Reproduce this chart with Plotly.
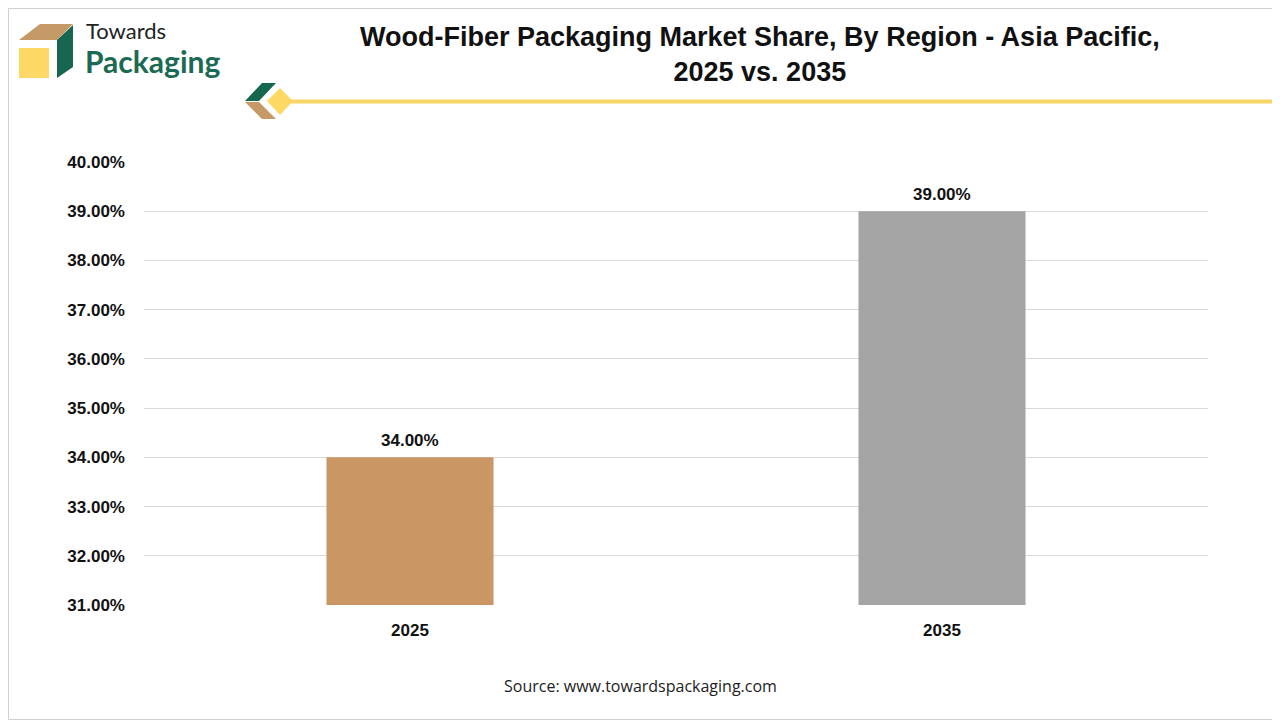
import plotly.graph_objects as go

categories = ["2025", "2035"]
values = [34.00, 39.00]
bar_colors = ["#C99664", "#A5A5A5"]
tick_vals = [31, 32, 33, 34, 35, 36, 37, 38, 39, 40]
tick_text = [f"{v:.2f}%" for v in tick_vals]
data_labels = [f"<b>{v:.2f}%</b>" for v in values]

# page offset of the figure inside the browser (body margin)
OX, OY = 8, 8
W, H = 1280 - OX, 720 - OY
L, R, T, B = 144, 1208, 162, 605  # plot area in screen pixels


def px(x):
    return (x - L) / (R - L)


def py(y):
    return (B - y) / (B - T)


def path(points):
    return "M " + " L ".join(f"{px(x):.5f},{py(y):.5f}" for x, y in points) + " Z"


fig = go.Figure()
fig.add_trace(go.Bar(
    x=categories, y=values, marker=dict(color=bar_colors, line=dict(width=0)),
    width=0.314, showlegend=False, hoverinfo="x+y",
))

shapes = []
# outer border
shapes.append(dict(type="rect", xref="paper", yref="paper", x0=px(OX + 0.5), x1=px(1279.5),
                   y0=py(OY + 0.5), y1=py(719.5),
                   line=dict(color="#D0D0D0", width=1), fillcolor="rgba(0,0,0,0)", layer="below"))
# logo cube
shapes.append(dict(type="path", xref="paper", yref="paper", path=path([(19, 40), (40, 24), (73, 24), (57, 40)]),
                   fillcolor="#C59A66", line=dict(width=0)))
shapes.append(dict(type="path", xref="paper", yref="paper", path=path([(57, 40), (73, 25), (73, 67), (57, 78)]),
                   fillcolor="#17664F", line=dict(width=0)))
shapes.append(dict(type="rect", xref="paper", yref="paper", x0=px(19), x1=px(49), y0=py(78), y1=py(48),
                   fillcolor="#FDD865", line=dict(width=0)))
# decoration by the title line
shapes.append(dict(type="line", xref="paper", yref="paper", x0=px(288), x1=px(1280), y0=py(101.5), y1=py(101.5),
                   line=dict(color="#F7D566", width=4)))
shapes.append(dict(type="path", xref="paper", yref="paper", path=path([(245, 101), (262, 83), (276, 83), (259, 101)]),
                   fillcolor="#17664F", line=dict(width=0)))
shapes.append(dict(type="path", xref="paper", yref="paper", path=path([(245, 102), (259, 102), (276, 119), (262, 119)]),
                   fillcolor="#C59A66", line=dict(width=0)))
shapes.append(dict(type="path", xref="paper", yref="paper", path=path([(280, 88), (293, 101), (280, 115), (267, 101)]),
                   fillcolor="#FDD865", line=dict(width=0)))

annotations = [
    dict(text="<b>Wood-Fiber Packaging Market Share, By Region - Asia Pacific,<br>2025 vs. 2035</b>",
         xref="paper", yref="paper", x=px(760), y=py(54), xanchor="center", yanchor="middle",
         showarrow=False, font=dict(family="Liberation Sans, Arial", size=27, color="#111111")),
    dict(text="Towards", xref="paper", yref="paper", x=px(84), y=py(30), xanchor="left", yanchor="middle",
         showarrow=False, font=dict(family="Lato, Open Sans", size=22, color="#222222")),
    dict(text="<b>Packaging</b>", xref="paper", yref="paper", x=px(83), y=py(61), xanchor="left", yanchor="middle",
         showarrow=False, font=dict(family="Lato, Open Sans", size=30, color="#1B6A54")),
    dict(text="Source: www.towardspackaging.com", xref="paper", yref="paper", x=px(640), y=py(686),
         xanchor="center", yanchor="middle", showarrow=False,
         font=dict(family="Open Sans, Noto Sans", size=16, color="#222222")),
]
for i, (v, t) in enumerate(zip(values, data_labels)):
    annotations.append(dict(text=t, x=i, y=v, xref="x", yref="y", xanchor="center", yanchor="bottom",
                            yshift=5, showarrow=False,
                            font=dict(family="Liberation Sans, Arial", size=17, color="#111111")))

fig.update_layout(
    width=W, height=H, autosize=False,
    margin=dict(l=L - OX, r=1280 - R, t=T - OY, b=720 - B, pad=0),
    paper_bgcolor="white", plot_bgcolor="white",
    shapes=shapes, annotations=annotations,
    xaxis=dict(type="category", showgrid=False, showline=False, ticks="", ticklabelstandoff=13,
               tickfont=dict(family="Liberation Sans, Arial", size=17, color="#111111", weight="bold")),
    yaxis=dict(range=[31, 40], tickvals=tick_vals, ticktext=tick_text, showgrid=True,
               gridcolor="#D9D9D9", gridwidth=1, zeroline=False, showline=False, ticks="",
               ticklabelstandoff=18,
               tickfont=dict(family="Liberation Sans, Arial", size=17, color="#111111", weight="bold")),
)

fig.write_html("out.html", config={"displayModeBar": False})
